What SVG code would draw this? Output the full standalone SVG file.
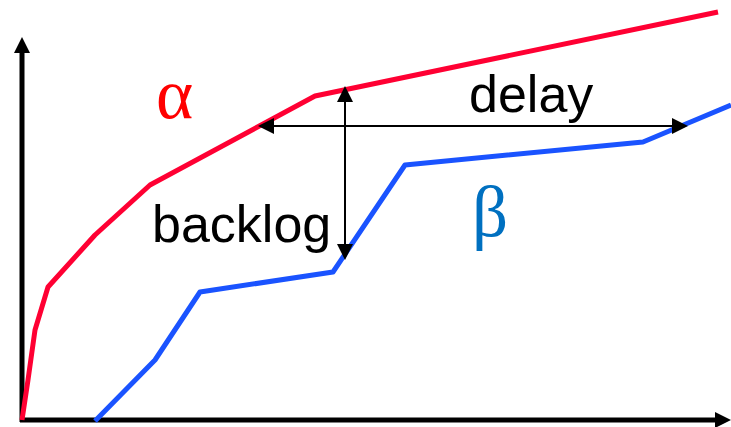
<svg xmlns="http://www.w3.org/2000/svg" width="731" height="427" viewBox="0 0 731 427">
<style>
.axis{stroke:#000;stroke-width:5;fill:none}
.dim{stroke:#000;stroke-width:2;fill:none}
.head{fill:#000}
.curve{fill:none;stroke-width:5;stroke-linejoin:round}
.lbl{font-family:"Liberation Sans",Arial,sans-serif;font-size:52px;fill:#000}
.greek{font-family:"Liberation Serif","Times New Roman",serif;font-size:71px}
</style>
<rect width="731" height="427" fill="#fff"/>
<g id="axes">
<line class="axis" x1="22" y1="422" x2="22" y2="50"/>
<polygon class="head" points="22,37 14,53 30,53"/>
<line class="axis" x1="20" y1="420" x2="718" y2="420"/>
<polygon class="head" points="731,420 715,412 715,428"/>
</g>
<g id="alpha-curve">
<polyline class="curve" stroke="#ff0033" points="22,420 28,380 35,330 48,287 95,235 150,185 315,96 718,12"/>
<text class="greek" x="156" y="118" fill="#ff0000">α</text>
</g>
<g id="beta-curve">
<polyline class="curve" stroke="#1a53ff" points="95,421 155,360 200,292 333,272 405,165 643,142 731,105"/>
<text class="greek" x="472" y="236" fill="#0070c0">β</text>
</g>
<g id="connectors">
<g id="backlog">
<line class="dim" x1="345" y1="100" x2="345" y2="246"/>
<polygon class="head" points="345,86 337,102 353,102"/>
<polygon class="head" points="345,260 337,244 353,244"/>
<text class="lbl" x="152" y="242">backlog</text>
</g>
<g id="delay">
<line class="dim" x1="270" y1="126" x2="676" y2="126"/>
<polygon class="head" points="258,126 274,118 274,134"/>
<polygon class="head" points="688,126 672,118 672,134"/>
<text class="lbl" x="469" y="112">delay</text>
</g>
</g>
</svg>
